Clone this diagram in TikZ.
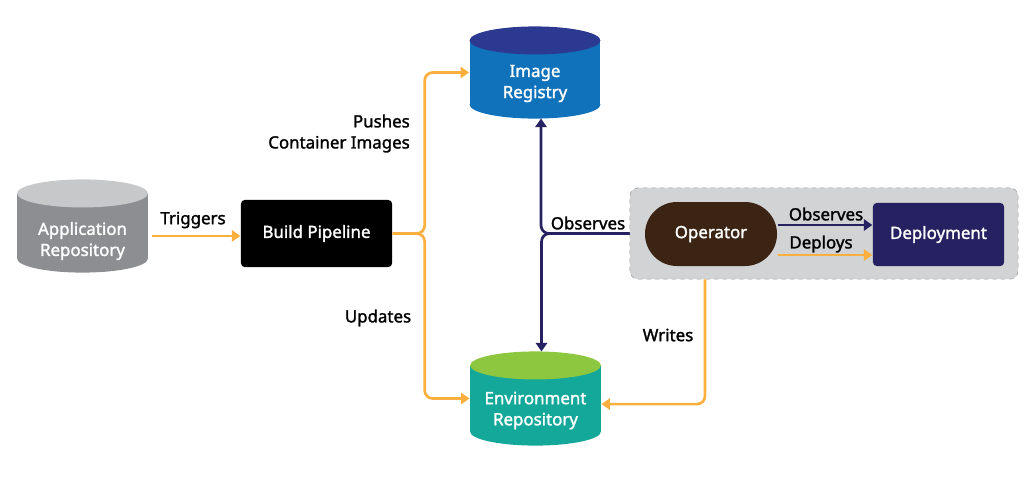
\documentclass[tikz,border=0pt]{standalone}
\usepackage{fontspec}
\setmainfont{Noto Sans}[UprightFeatures={FakeBold=1.6}]
\usepackage{tikz}
\usetikzlibrary{arrows.meta}

\definecolor{flow}{HTML}{FBAF3F}
\definecolor{navy}{HTML}{262262}
\definecolor{appbody}{HTML}{8C8E91}
\definecolor{apptop}{HTML}{C7C8CA}
\definecolor{regbody}{HTML}{1072BA}
\definecolor{regtop}{HTML}{2B3990}
\definecolor{envbody}{HTML}{14A89A}
\definecolor{envtop}{HTML}{8DC63F}
\definecolor{opsfill}{HTML}{D1D3D4}
\definecolor{opsline}{HTML}{9A9B9D}
\definecolor{opbrown}{HTML}{3C2415}

\begin{document}
\begin{tikzpicture}[thick, x=0.025cm, y=-0.025cm,
    font=\fontsize{12}{15}\selectfont,
    repo/.style={minimum width=3.27cm, inner sep=0pt},
    repoend/.style={x radius=1.635cm, y radius=0.35cm},
    repotext/.style={text=white, align=center},
    block/.style={rounded corners=0.1cm, minimum width=3.28cm,
        minimum height=1.6cm, text=white},
    orangeflow/.style={draw=flow, line width=1.9pt, rounded corners=0.2cm,
        -{Triangle[length=6pt,width=8pt]}},
    navyflow/.style={draw=navy, line width=1.9pt, rounded corners=0.2cm,
        -{Triangle[length=6pt,width=8pt]}}]

    \useasboundingbox (0,0) rectangle (1024,476);

    % repositories
    \node[repo, fill=appbody, minimum height=1.6cm] (app) at (82.5,226) {};
    \fill[appbody] (app.south) ellipse [repoend];
    \fill[apptop] (app.north) ellipse [repoend];
    \node[repotext] (apptext) at (82.5,241) {Application\\Repository};

    \node[repo, fill=regbody, minimum height=1.575cm] (ir) at (535,72.5) {};
    \fill[regbody] (ir.south) ellipse [repoend];
    \fill[regtop] (ir.north) ellipse [repoend];
    \node[repotext] (irtext) at (535,83.5) {Image\\Registry};

    \node[repo, fill=envbody, minimum height=1.625cm] (er) at (535.5,398.5) {};
    \fill[envbody] (er.south) ellipse [repoend];
    \fill[envtop] (er.north) ellipse [repoend];
    \node[repotext] (ertext) at (535.5,410.5) {Environment\\Repository};

    \node[block, fill=black, minimum width=3.78cm, minimum height=1.68cm]
        (bp) at (316.5,233.5) {Build Pipeline};

    \node[draw=opsline, dashed, thin, fill=opsfill, rounded corners=0.2cm,
        minimum width=9.7cm, minimum height=2.28cm] (ops) at (824,233.5) {};
    \node[block, fill=opbrown, rounded corners=0.8cm, minimum width=3.3cm]
        (op) at (711,234) {Operator};
    \node[block, fill=navy, minimum height=1.58cm]
        (dep) at (938.5,234.5) {Deployment};

    \draw[orangeflow] ([xshift=0.1cm,yshift=-0.06cm]app.east |- bp.west) -- ([yshift=-0.06cm]bp.west);
    \draw[orangeflow] (bp.east) -- ++(32,0) |- (ir.west);
    \draw[orangeflow] (bp.east) -- ++(32,0) |- (er.west);

    \draw[navyflow] (ops.west) -| ([xshift=0.15cm,yshift=-0.35cm]ir.south);
    \draw[navyflow] (ops.west) -| ([xshift=0.15cm,yshift=0.35cm]er.north);

    \draw[navyflow] ([yshift=0.225cm]op.east) -- ([yshift=0.225cm]op.east -| dep.west);
    \draw[orangeflow] ([yshift=-0.525cm]op.east) -- ([yshift=-0.525cm]op.east -| dep.west);

    \draw[orangeflow] ([xshift=-0.15cm]op.south |- ops.south) |- ([yshift=-0.14cm]er.east);

    \node (trig) at (193,220) {Triggers};
    \node[align=right, anchor=east] (push) at (415,133.5) {Pushes\\Container Images};
    \node (upd) at (378,318) {Updates};
    \node (obs) at (588,223) {Observes};
    \node (obsdep) at (826,214) {Observes};
    \node (depl) at (821,244) {Deploys};
    \node (wr) at (668,335) {Writes};

\end{tikzpicture}
\end{document}
